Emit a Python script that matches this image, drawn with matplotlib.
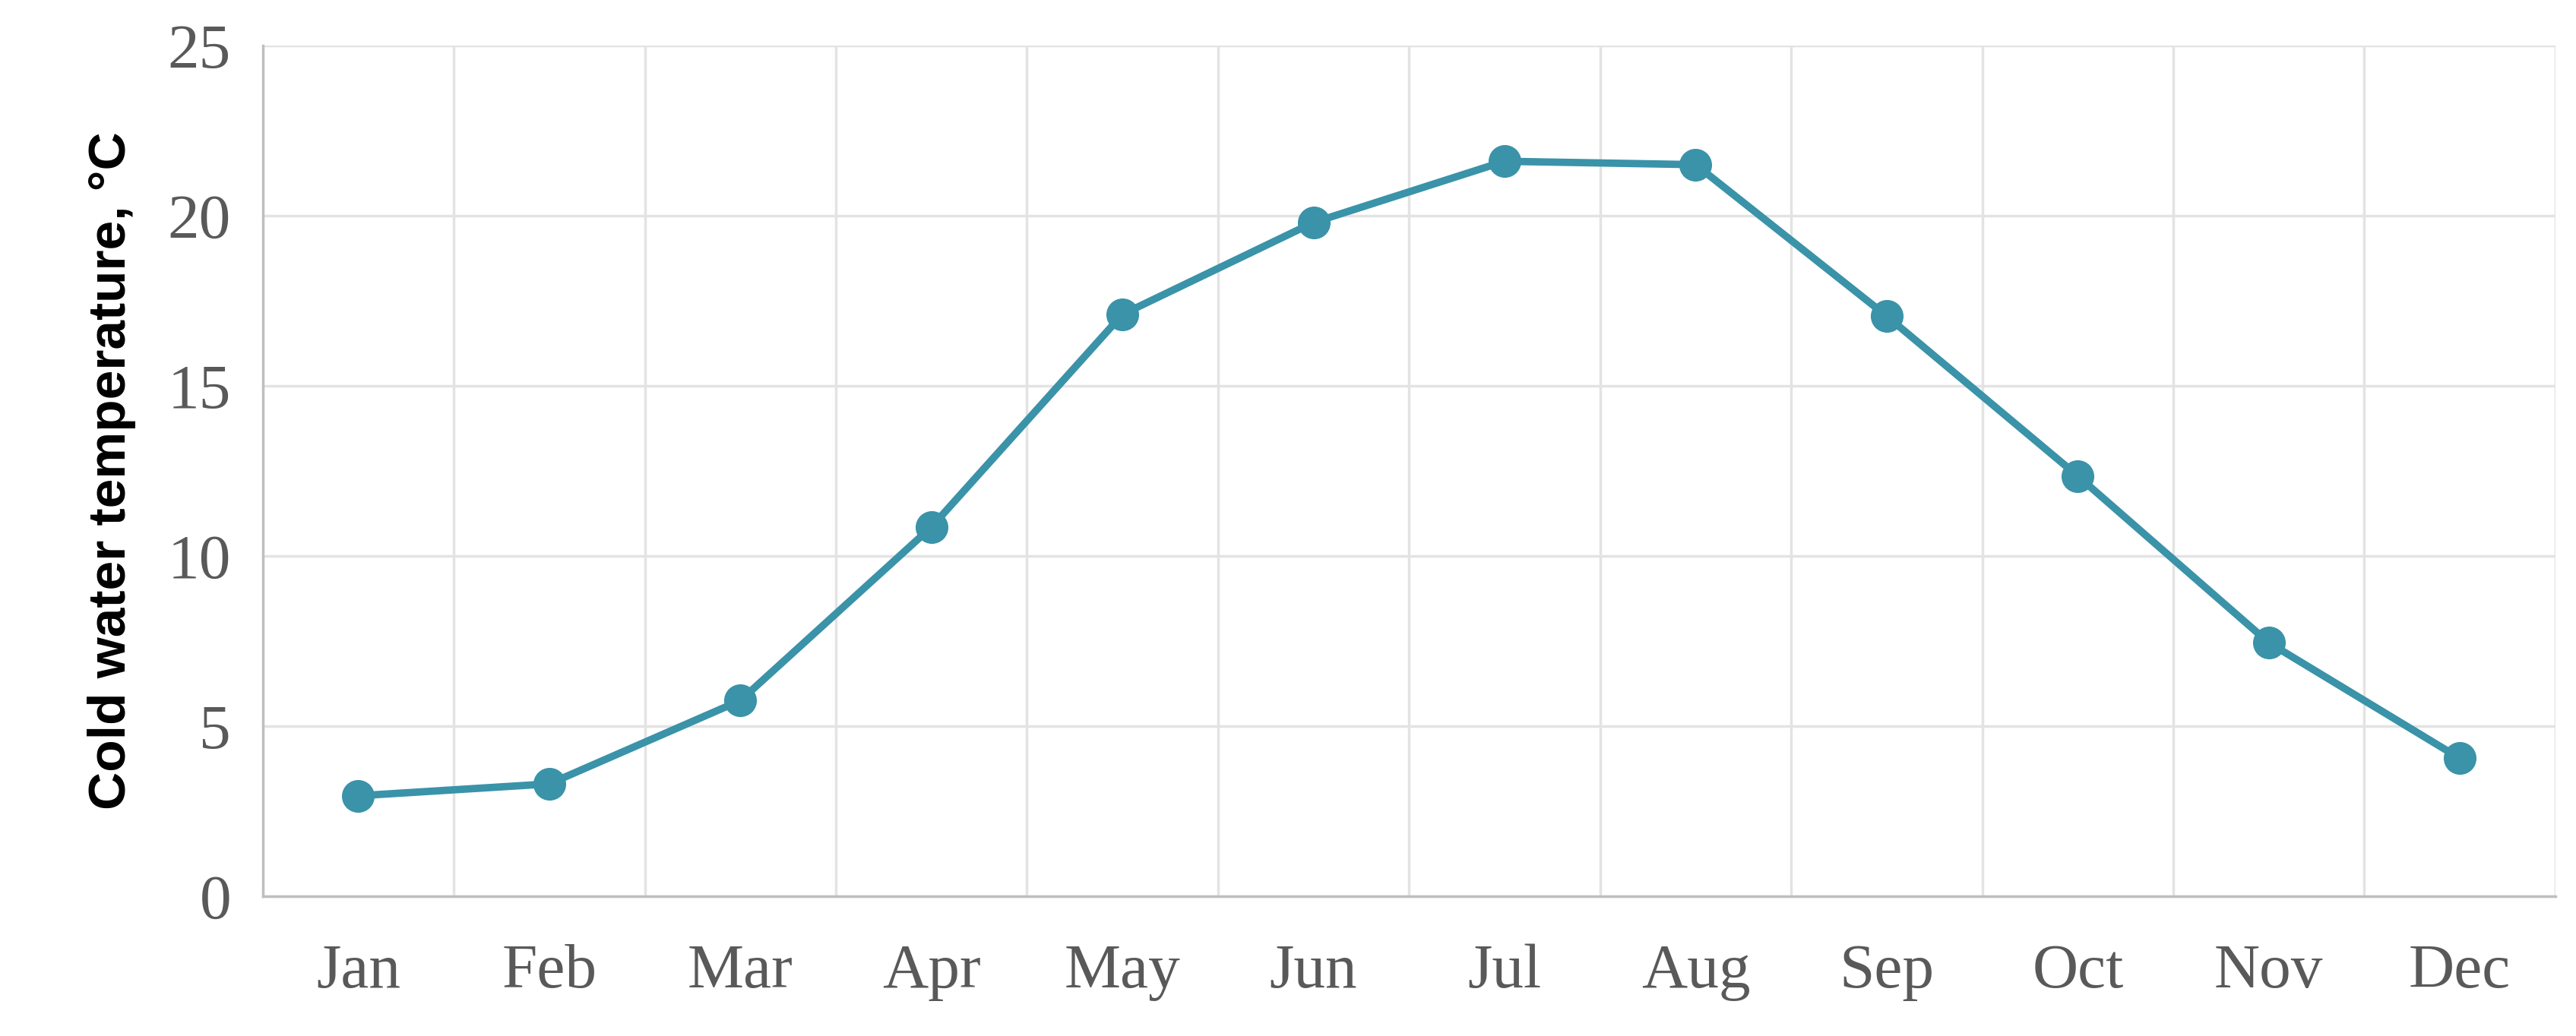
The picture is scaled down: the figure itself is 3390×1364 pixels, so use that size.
import matplotlib
matplotlib.use('Agg')
import matplotlib.pyplot as plt
import numpy as np

months = ['Jan', 'Feb', 'Mar', 'Apr', 'May', 'Jun', 'Jul', 'Aug', 'Sep', 'Oct', 'Nov', 'Dec']
temps = [2.95, 3.3, 5.75, 10.85, 17.1, 19.8, 21.6, 21.5, 17.05, 12.35, 7.45, 4.05]
y_ticks = [0, 5, 10, 15, 20, 25]

LINE_COLOR = '#3a93a8'
GRID_COLOR = '#e3e3e3'
TEXT_COLOR = '#595959'

fig = plt.figure(figsize=(33.9, 13.64), dpi=100)
ax = fig.add_axes([0.102, 0.135, 0.890, 0.821])

x = np.arange(len(months))
ax.plot(x, temps, color=LINE_COLOR, lw=7, marker='o', markersize=30, zorder=3)

ax.set_xlim(-0.5, len(months) - 0.5)
ax.set_ylim(0, 25)
ax.set_yticks(y_ticks)
ax.set_xticks(x)
ax.set_xticklabels(months)

# vertical grid between categories
for b in np.arange(0.5, len(months) - 0.5, 1):
    ax.axvline(b, color=GRID_COLOR, lw=2.5, zorder=0)
ax.axvline(len(months) - 0.5, color=GRID_COLOR, lw=2.5, zorder=0)
ax.yaxis.grid(True, color=GRID_COLOR, lw=2.5, zorder=0)
ax.set_axisbelow(True)

for s in ['top', 'right']:
    ax.spines[s].set_visible(False)
ax.spines['left'].set_color('#bfbfbf')
ax.spines['bottom'].set_color('#bfbfbf')
ax.spines['left'].set_linewidth(2.5)
ax.spines['bottom'].set_linewidth(2.5)

ax.tick_params(axis='both', length=0, labelsize=60, colors=TEXT_COLOR)
ax.tick_params(axis='x', pad=45)
ax.tick_params(axis='y', pad=30)
for lab in ax.get_xticklabels() + ax.get_yticklabels():
    lab.set_family('Liberation Serif')

ax.set_ylabel('Cold water temperature, °C', fontsize=50, fontweight='bold',
              family='Liberation Sans', labelpad=30)

fig.savefig('out.png', dpi=100)
